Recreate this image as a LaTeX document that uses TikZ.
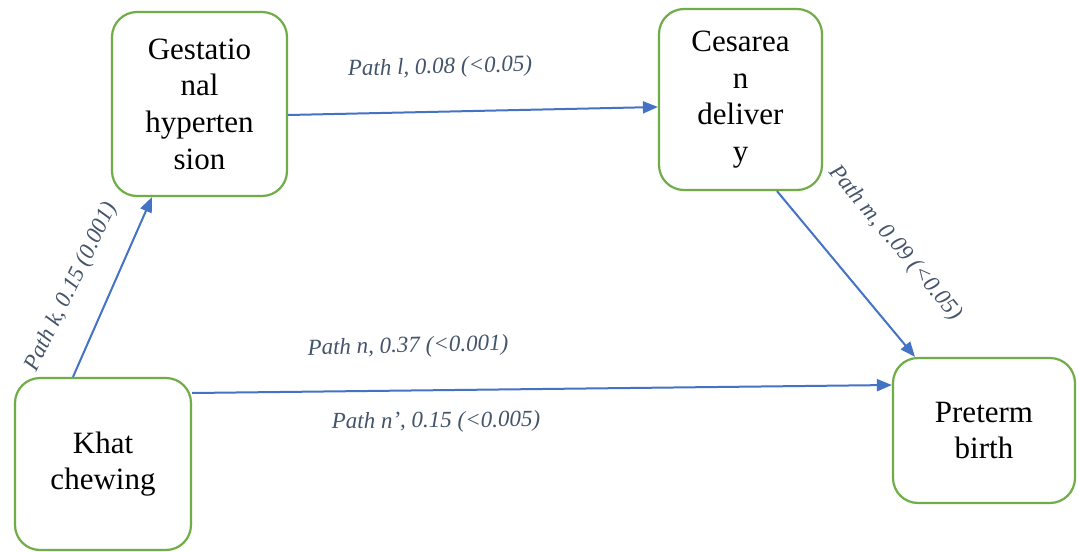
\documentclass[tikz,border=0pt]{standalone}
\usepackage{fontspec}
\newfontfamily\timesfont{LiberationSerif}[Extension=.ttf, UprightFont=*-Regular, ItalicFont=*-Italic]
\usetikzlibrary{arrows.meta}
\definecolor{boxgreen}{HTML}{70AD47}
\definecolor{arrowblue}{HTML}{4472C4}
\definecolor{labelgray}{HTML}{44546A}
\tikzset{
  varbox/.style={draw=boxgreen, line width=1.1pt, rounded corners=12.5pt, fill=white,
    align=center, inner sep=0pt, font=\timesfont\fontsize{15.5}{18.35}\selectfont},
  patharrow/.style={draw=arrowblue, line width=1pt, -{Triangle[length=7.5pt,width=6pt]}},
  pathlabel/.style={text=labelgray, font=\timesfont\itshape\fontsize{11.5}{13}\selectfont, inner sep=0pt}
}
\begin{document}
\begin{tikzpicture}[x=0.5pt,y=-0.5pt]
\useasboundingbox (0,0) rectangle (1078,552);
\fill[white] (0,0) rectangle (1078,552);
\node[varbox, minimum width=87.5pt, minimum height=92pt] (gh) at (199.5,104) {Gestatio\\nal\\hyperten\\sion};
\node[varbox, minimum width=81.5pt, minimum height=90.5pt] (cd) at (740.5,99.5) {Cesarea\\n\\deliver\\y};
\node[varbox, minimum width=88pt, minimum height=86pt] (kc) at (103,464) {Khat\\chewing};
\node[varbox, minimum width=91pt, minimum height=72.5pt] (pb) at (984,430.5) {Preterm\\birth};

\draw[patharrow] ([xshift=-15pt]kc.north) -- ([xshift=-23.75pt]gh.south);
\draw[patharrow] ([yshift=-5.5pt]gh.east) -- ([yshift=-3.75pt]cd.west);
\draw[patharrow] ([xshift=18.25pt]cd.south) -- ([xshift=-34.5pt]pb.north);
\draw[patharrow] ([yshift=35.5pt]kc.east) -- ([yshift=22.75pt]pb.west);

\node[pathlabel, rotate=64] (lk) at (72,287) {Path k, 0.15 (0.001)};
\node[pathlabel, rotate=1.5] (ll) at (440,68) {Path l, 0.08 (<0.05)};
\node[pathlabel, rotate=-50] (lm) at (895,243) {Path m, 0.09 (<0.05)};
\node[pathlabel, rotate=1.5] (ln) at (408,347) {Path n, 0.37 (<0.001)};
\node[pathlabel, rotate=0.5] (lnp) at (436,422) {Path n’, 0.15 (<0.005)};
\end{tikzpicture}
\end{document}
